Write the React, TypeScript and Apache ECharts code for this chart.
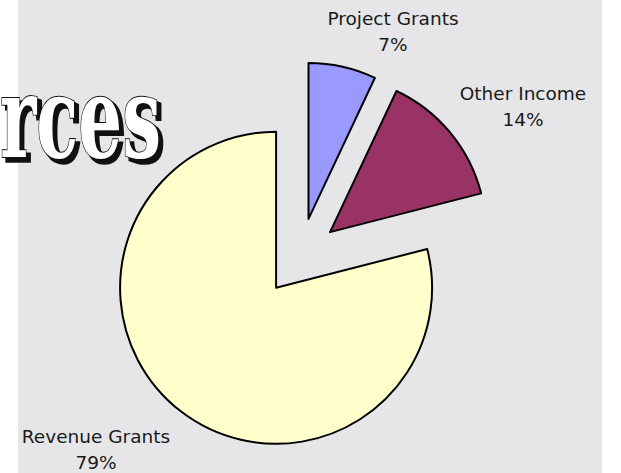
import React, { useEffect, useRef } from "react";
import * as echarts from "echarts";

const categories = ["Project Grants", "Other Income", "Revenue Grants"];
const values = [7, 14, 79];
const colors = ["#9999ff", "#993366", "#ffffcc"];
const titleText = "rces";

// label anchor positions (layout only)
const LABEL_POS: [number, number][] = [
  [393, 31],
  [523, 106],
  [96, 449],
];

export default function App() {
  const ref = useRef<HTMLDivElement>(null);
  useEffect(() => {
    const chart = echarts.init(ref.current!, null, { renderer: "svg", width: 621, height: 473 });
    const titleFont = "bold 115px 'DejaVu Serif'";
    const total = values.reduce((a, b) => a + b, 0);
    const labels = categories.map((name, i) => ({
      type: "text",
      silent: true,
      z: 10,
      x: LABEL_POS[i][0],
      y: LABEL_POS[i][1],
      style: {
        text: `${name}\n${Math.round((values[i] / total) * 100)}%`,
        font: "18.5px 'DejaVu Sans'",
        lineHeight: 26,
        fill: "#1a1a1a",
        textAlign: "center",
        textVerticalAlign: "middle",
      },
    }));
    chart.setOption({
      animation: false,
      backgroundColor: "#ffffff",
      graphic: [
        {
          type: "rect",
          silent: true,
          z: -10,
          shape: { x: 18, y: 0, width: 584, height: 473 },
          style: { fill: "#e6e6e8" },
        },
        {
          type: "text",
          silent: true,
          x: 4,
          y: 120,
          scaleX: 0.6,
          style: {
            text: titleText,
            font: titleFont,
            fill: "#111",
            stroke: "#111",
            lineWidth: 3.5,
            textAlign: "left",
            textVerticalAlign: "middle",
          },
        },
        {
          type: "text",
          silent: true,
          x: 0,
          y: 116,
          scaleX: 0.6,
          style: {
            text: titleText,
            font: titleFont,
            fill: "#ffffff",
            stroke: "#111",
            lineWidth: 1.8,
            textAlign: "left",
            textVerticalAlign: "middle",
          },
        },
        ...labels,
      ],
      series: [
        {
          type: "pie",
          center: [300, 257],
          radius: 156,
          startAngle: 90,
          clockwise: true,
          selectedMode: "multiple",
          selectedOffset: 39,
          emphasis: { disabled: true },
          label: { show: false },
          labelLine: { show: false },
          data: categories.map((name, i) => ({
            name,
            value: values[i],
            selected: true,
            itemStyle: { color: colors[i], borderColor: "#000", borderWidth: 2 },
            select: { itemStyle: { color: colors[i], borderColor: "#000", borderWidth: 2 } },
          })),
        },
      ],
    });
    return () => chart.dispose();
  }, []);
  return <div ref={ref} style={{ position: "fixed", left: 0, top: 0, width: 621, height: 473 }} />;
}
